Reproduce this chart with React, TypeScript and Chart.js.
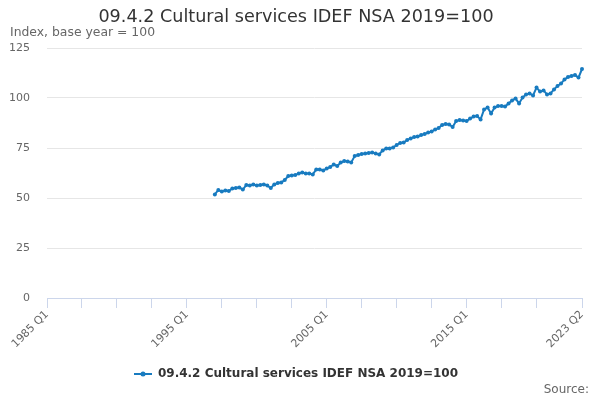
import React, { useEffect, useRef } from "react";
import { Chart, registerables } from "chart.js";

Chart.register(...registerables);

const TITLE = "09.4.2 Cultural services IDEF NSA 2019=100";
const SUBTITLE = "Index, base year = 100";
const SERIES_NAME = "09.4.2 Cultural services IDEF NSA 2019=100";
const SOURCE = "Source:";

const START_YEAR = 1985;
const END_YEAR = 2023;
const END_QUARTER = 2;
const FIRST_DATA_LABEL = "1997 Q1";

const quarterLabels: string[] = [];
for (let y = START_YEAR; y <= END_YEAR; y++) {
  for (let q = 1; q <= 4; q++) {
    if (y === END_YEAR && q > END_QUARTER) break;
    quarterLabels.push(`${y} Q${q}`);
  }
}

const values: number[] = [
  51.8, 54, 53.2, 53.8, 53.5, 54.8, 55, 55.3, 54.2, 56.5,
  56.3, 56.8, 56.2, 56.5, 56.8, 56.2, 55, 56.8, 57.5, 57.8,
  59, 61, 61.2, 61.5, 62.2, 62.8, 62.3, 62.3, 61.8, 64.3,
  64.3, 63.8, 64.7, 65.5, 66.7, 66, 67.7, 68.5, 68.3, 67.8,
  71, 71.5, 72, 72.2, 72.5, 72.8, 72.3, 71.8, 73.8, 74.8,
  74.7, 75.3, 76.5, 77.5, 77.7, 79, 79.8, 80.5, 80.7, 81.5,
  82, 82.7, 83.3, 84.2, 85, 86.5, 87, 86.8, 85.5, 88.5,
  89, 88.8, 88.5, 89.7, 90.7, 91, 89.3, 94.3, 95.2, 92.2,
  95.2, 96, 96, 95.7, 97.2, 98.8, 99.7, 97.3, 100.2, 101.8,
  102.2, 101.3, 105.2, 103.2, 103.8, 101.8, 102.3, 104.3, 106, 107.2,
  109.3, 110.5, 111, 111.5, 110.2, 114.5,
];

const LABELED_TICKS: string[] = ["1985 Q1", "1995 Q1", "2005 Q1", "2015 Q1", "2023 Q2"];

const firstIdx = quarterLabels.indexOf(FIRST_DATA_LABEL);
const seriesData: (number | null)[] = quarterLabels.map((_, i) =>
  i >= firstIdx && i - firstIdx < values.length ? values[i - firstIdx] : null
);

const LINE_COLOR = "#187bc0";
const FONT = "'DejaVu Sans', Verdana, sans-serif";

function makeLegendMarker(): HTMLCanvasElement {
  const c = document.createElement("canvas");
  c.width = 18;
  c.height = 6;
  const ctx = c.getContext("2d")!;
  ctx.strokeStyle = LINE_COLOR;
  ctx.lineWidth = 2;
  ctx.beginPath();
  ctx.moveTo(0, 3);
  ctx.lineTo(18, 3);
  ctx.stroke();
  ctx.fillStyle = LINE_COLOR;
  ctx.beginPath();
  ctx.arc(9, 3, 2.5, 0, Math.PI * 2);
  ctx.fill();
  return c;
}

export default function App() {
  const ref = useRef<HTMLCanvasElement | null>(null);

  useEffect(() => {
    if (!ref.current) return;
    const marker = makeLegendMarker();
    const lastIdx = quarterLabels.length - 1;

    const sourcePlugin = {
      id: "sourceText",
      afterDraw(chart: any) {
        const ctx = chart.ctx;
        ctx.save();
        ctx.font = `12px ${FONT}`;
        ctx.fillStyle = "#666666";
        ctx.textAlign = "right";
        ctx.textBaseline = "middle";
        ctx.fillText(SOURCE, 589, 390);
        ctx.restore();
      },
    };

    const chart = new Chart(ref.current, {
      type: "line",
      data: {
        labels: quarterLabels,
        datasets: [
          {
            label: SERIES_NAME,
            data: seriesData,
            borderColor: LINE_COLOR,
            backgroundColor: LINE_COLOR,
            borderWidth: 2,
            pointRadius: 2,
            pointHoverRadius: 3,
            pointBorderWidth: 0,
            tension: 0,
            spanGaps: false,
          },
        ],
      },
      options: {
        animation: false,
        responsive: false,
        maintainAspectRatio: false,
        devicePixelRatio: 1,
        layout: { padding: { top: 0, left: 10, right: 18, bottom: 10 } },
        plugins: {
          title: {
            display: true,
            text: TITLE,
            color: "#333333",
            font: { family: FONT, size: 17.6, weight: "normal", lineHeight: 1.0 },
            padding: { top: 9, bottom: 0 },
          },
          subtitle: {
            display: true,
            text: SUBTITLE,
            align: "start",
            color: "#666666",
            font: { family: FONT, size: 12.4, weight: "normal", lineHeight: 1.0 },
            padding: { top: 0, bottom: 9 },
          },
          legend: {
            display: true,
            position: "bottom",
            labels: {
              color: "#333333",
              font: { family: FONT, size: 12, weight: "bold" },
              usePointStyle: true,
              pointStyleWidth: 18,
              padding: 10,
              generateLabels: () => [
                {
                  text: SERIES_NAME,
                  pointStyle: marker as any,
                  fillStyle: LINE_COLOR,
                  strokeStyle: LINE_COLOR,
                  lineWidth: 0,
                  hidden: false,
                  datasetIndex: 0,
                  fontColor: "#333333",
                } as any,
              ],
            },
          },
          tooltip: { enabled: false },
        },
        scales: {
          x: {
            type: "category",
            offset: false,
            border: { display: true, color: "#ccd6eb", width: 1 },
            grid: {
              display: true,
              drawOnChartArea: false,
              drawTicks: true,
              tickLength: 10,
              color: "#ccd6eb",
            },
            ticks: {
              autoSkip: false,
              maxRotation: 45,
              minRotation: 45,
              color: "#666666",
              font: { family: FONT, size: 11 },
              padding: 0,
              callback: (_v: any, idx: number) => {
                const lab = quarterLabels[idx];
                if (LABELED_TICKS.includes(lab)) return lab;
                if (idx % 10 === 0 && idx < lastIdx - 5) return "";
                return null;
              },
            },
            afterFit: (scale: any) => {
              scale.height = 60;
            },
          },
          y: {
            min: 0,
            max: 125,
            border: { display: false },
            grid: { color: "#e6e6e6", drawTicks: false },
            ticks: {
              stepSize: 25,
              color: "#666666",
              font: { family: FONT, size: 11 },
              padding: 17,
            },
            afterFit: (scale: any) => {
              scale.width = 37;
            },
          },
        },
      },
      plugins: [sourcePlugin],
    } as any);

    return () => chart.destroy();
  }, []);

  return (
    <div style={{ position: "fixed", left: 0, top: 0, width: 600, height: 400, background: "#fff" }}>
      <canvas ref={ref} width={600} height={400} style={{ width: 600, height: 400 }} />
    </div>
  );
}
